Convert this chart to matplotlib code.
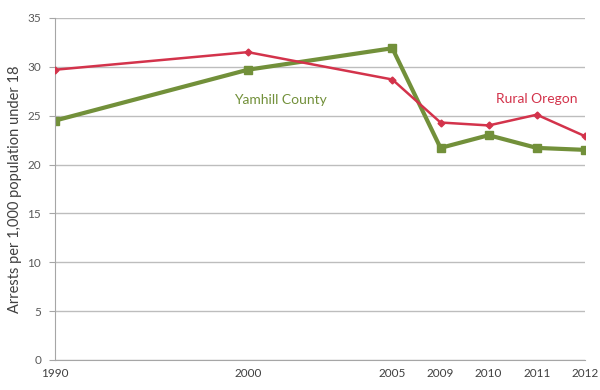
import numpy as np
import matplotlib.pyplot as plt
from matplotlib.ticker import FixedLocator, FixedFormatter

years = [1990, 2000, 2005, 2009, 2010, 2011, 2012]
rural_oregon = [29.7, 31.5, 28.7, 24.3, 24.0, 25.1, 22.9]
yamhill = [24.5, 29.7, 31.9, 21.7, 23.0, 21.7, 21.5]

# uneven category spacing on the year axis
brk_years = [1990, 2000, 2005, 2009, 2012]
brk_slots = [0, 4, 7, 8, 11]

def fwd(x):
    return np.interp(x, brk_years, brk_slots)

def inv(x):
    return np.interp(x, brk_slots, brk_years)

plt.rcParams['font.family'] = ['Lato', 'DejaVu Sans']

red = '#d3334b'
green = '#72903a'

fig = plt.figure(figsize=(6, 3.9), dpi=100)
ax = fig.add_axes([0.092, 0.077, 0.883, 0.877])
ax.set_xscale('function', functions=(fwd, inv))

ax.plot(years, rural_oregon, color=red, lw=1.8, marker='D', ms=3.5, zorder=3)
ax.plot(years, yamhill, color=green, lw=3, marker='s', ms=5.5, zorder=2)

ax.set_xlim(1990, 2012)
ax.set_ylim(0, 35)
ax.set_yticks(range(0, 36, 5))
ax.xaxis.set_major_locator(FixedLocator(years))
ax.xaxis.set_major_formatter(FixedFormatter([str(y) for y in years]))
ax.xaxis.set_minor_locator(FixedLocator([]))

ax.grid(axis='y', color='#bdbdbd', lw=1)
ax.set_axisbelow(True)
for s in ['top', 'right']:
    ax.spines[s].set_visible(False)
ax.spines['left'].set_color('#a6a6a6')
ax.spines['bottom'].set_color('#a6a6a6')
ax.tick_params(axis='y', colors='#a6a6a6', labelcolor='#595959', labelsize=8.5, length=4, pad=6)
ax.tick_params(axis='x', length=0, labelcolor='#404040', labelsize=8.5, pad=6)

ax.set_ylabel('Arrests per 1,000 population under 18', fontsize=10.5, color='#404040', labelpad=4)

ax.text(1999.3, 26.6, 'Yamhill County', color=green, fontsize=10, ha='left', va='center')
ax.text(2011.0, 26.7, 'Rural Oregon', color=red, fontsize=10, ha='center', va='center')

fig.savefig('out.png', dpi=100)
